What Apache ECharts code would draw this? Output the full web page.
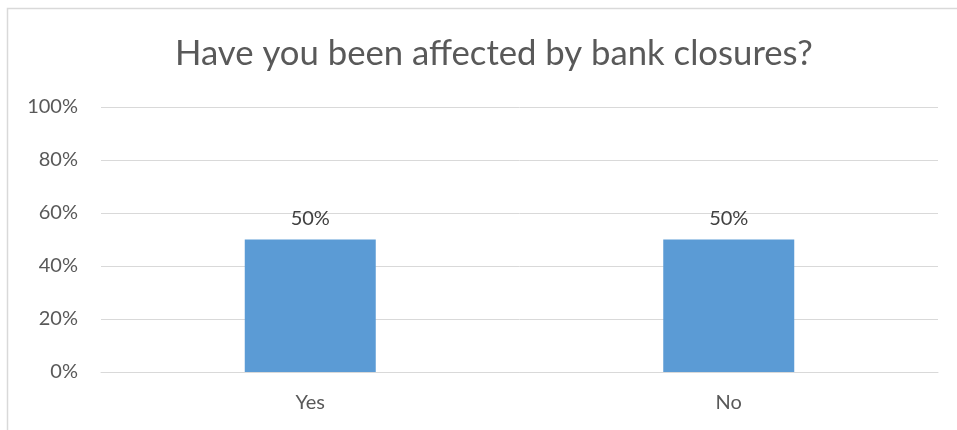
<!DOCTYPE html>
<html><head><meta charset="utf-8">
<script src="https://cdn.jsdelivr.net/npm/echarts@6/dist/echarts.min.js"></script>
<style>html,body{margin:0;padding:0;background:#fff}#c{width:957px;height:430px}</style>
</head><body><div id="c"></div>
<script>
const titleText = "Have you been affected by bank closures?";
const categories = ["Yes", "No"];
const values = [50, 50];
const yTicks = [0, 20, 40, 60, 80, 100];

const FONT = "Lato";
const chart = echarts.init(document.getElementById('c'), null, {renderer: 'canvas'});
chart.setOption({
  animation: false,
  backgroundColor: '#fff',
  graphic: [{
    type: 'rect', silent: true,
    shape: {x: 7.5, y: 8.5, width: 1000, height: 500},
    style: {fill: 'none', stroke: '#d9d9d9', lineWidth: 1.5}
  }],
  title: {
    text: titleText, left: 170, top: 31,
    textStyle: {fontFamily: FONT, fontSize: 34.7, fontWeight: 'normal', color: '#595959'}
  },
  grid: {left: 101, right: 19, top: 107, bottom: 58, containLabel: false},
  xAxis: {
    type: 'category', data: categories,
    axisLine: {show: true, lineStyle: {color: '#d9d9d9', width: 1}},
    axisTick: {show: false},
    axisLabel: {fontFamily: FONT, fontSize: 20, color: '#595959', margin: 21}
  },
  yAxis: {
    type: 'value', min: yTicks[0], max: yTicks[yTicks.length - 1], interval: yTicks[1] - yTicks[0],
    axisLine: {show: false}, axisTick: {show: false},
    splitLine: {lineStyle: {color: '#d9d9d9', width: 1}},
    axisLabel: {fontFamily: FONT, fontSize: 20, color: '#595959', margin: 23, formatter: v => v + '%'}
  },
  series: [{
    type: 'bar', data: values, barWidth: 131,
    itemStyle: {color: '#5b9bd5'},
    label: {show: true, position: 'top', distance: 11, fontFamily: FONT, fontSize: 20, color: '#404040', formatter: p => p.value + '%'}
  }]
});
</script></body></html>
